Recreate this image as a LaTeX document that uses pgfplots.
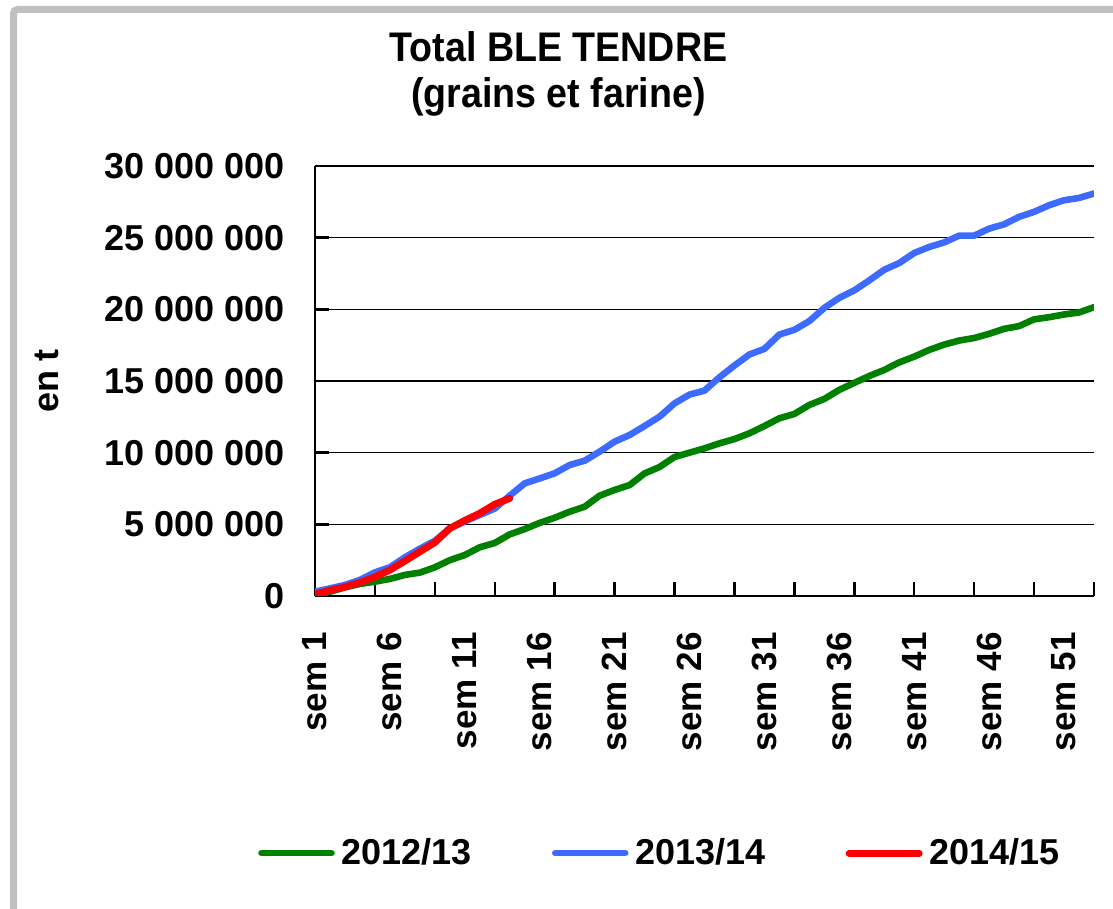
\documentclass[border=0pt]{standalone}
\usepackage{fontspec}
\setmainfont{Liberation Sans}
\usepackage{pgfplots}
\pgfplotsset{compat=1.18}
\usepackage{pgfplotstable}
\definecolor{cgreen}{HTML}{008000}
\definecolor{cblue}{HTML}{3D6BFF}
\definecolor{cred}{HTML}{FF0000}
\definecolor{cframe}{HTML}{C0C0C0}
\newcommand\f{\bfseries\fontsize{18}{21.6}\selectfont}

\pgfplotstableread{
w v
1 50000
2 300000
3 600000
4 840000
5 1000000
6 1190000
7 1470000
8 1630000
9 2000000
10 2500000
11 2860000
12 3400000
13 3700000
14 4300000
15 4670000
16 5100000
17 5460000
18 5880000
19 6230000
20 7000000
21 7400000
22 7740000
23 8550000
24 9000000
25 9700000
26 10000000
27 10300000
28 10650000
29 10950000
30 11350000
31 11860000
32 12400000
33 12700000
34 13330000
35 13750000
36 14380000
37 14870000
38 15350000
39 15770000
40 16300000
41 16700000
42 17170000
43 17540000
44 17820000
45 18000000
46 18290000
47 18640000
48 18830000
49 19300000
50 19450000
51 19640000
52 19780000
53 20150000
}\greentab

\pgfplotstableread{
w v
1 300000
2 530000
3 770000
4 1120000
5 1650000
6 2000000
7 2700000
8 3300000
9 3850000
10 4720000
11 5200000
12 5650000
13 6100000
14 7000000
15 7860000
16 8200000
17 8560000
18 9140000
19 9440000
20 10070000
21 10770000
22 11230000
23 11860000
24 12510000
25 13440000
26 14050000
27 14330000
28 15260000
29 16080000
30 16850000
31 17240000
32 18240000
33 18570000
34 19180000
35 20100000
36 20800000
37 21320000
38 22020000
39 22760000
40 23230000
41 23930000
42 24350000
43 24670000
44 25140000
45 25140000
46 25630000
47 25930000
48 26450000
49 26800000
50 27260000
51 27610000
52 27770000
53 28080000
}\bluetab

\pgfplotstableread{
w v
1 120000
2 400000
3 630000
4 940000
5 1330000
6 1810000
7 2440000
8 3090000
9 3730000
10 4720000
11 5270000
12 5770000
13 6400000
14 6810000
}\redtab

\begin{document}
\begin{tikzpicture}
\useasboundingbox (0,0) rectangle (556.5pt,454.5pt);
\draw[cframe, line width=3.5pt, rounded corners=2pt] (6.75pt,-10pt) -- (6.75pt,449.75pt) -- (580pt,449.75pt);
\node[font=\bfseries\fontsize{18.8}{22}\selectfont, anchor=base, yscale=1.1] at (279.25pt,423.5pt) {Total BLE TENDRE};
\node[font=\bfseries\fontsize{18.8}{22}\selectfont, anchor=base, yscale=1.1] at (279.25pt,400.5pt) {(grains et farine)};
\begin{axis}[
  at={(157.5pt,156.5pt)}, anchor=south west,
  scale only axis, width=389.5pt, height=215pt,
  xmin=1, xmax=53, ymin=0, ymax=30000000,
  axis x line*=bottom, axis y line*=left,
  axis line style={line width=1.1pt, -},
  tick align=inside,
  major tick length=7pt,
  tick style={line width=1.2pt, black},
  xtick={1,5,9,13,17,21,25,29,33,37,41,45,49,53},
  xticklabels={},
  extra x ticks={1,6,11,16,21,26,31,36,41,46,51},
  extra x tick labels={sem 1,sem 6,sem 11,sem 16,sem 21,sem 26,sem 31,sem 36,sem 41,sem 46,sem 51},
  extra x tick style={tick style={draw=none}},
  xticklabel style={rotate=90, anchor=east, inner sep=0pt, font=\bfseries\fontsize{17.5}{21}\selectfont},
  xticklabel shift=18pt,
  ytick={0,5000000,10000000,15000000,20000000,25000000,30000000},
  yticklabels={0,5 000 000,10 000 000,15 000 000,20 000 000,25 000 000,30 000 000},
  yticklabel style={inner sep=0pt, anchor=east, font=\f},
  yticklabel shift=15pt,
  scaled y ticks=false,
  ymajorgrids, grid style={black, line width=0.8pt},
  ylabel={en t},
  ylabel style={at={(axis description cs:-0.344,0.5)}, anchor=center, font=\f},
  legend style={at={(axis description cs:0.4416,-0.598)}, anchor=center, draw=none, fill=none,
    font=\f, legend columns=3, nodes={inner sep=0pt},
    /tikz/every odd column/.append style={column sep=3.5pt},
    /tikz/every even column/.append style={column sep=40pt}},
  legend image code/.code={\draw[#1, line cap=round] (0pt,0pt) -- (35pt,0pt);},
  every axis plot/.append style={line join=round, line cap=round, no marks},
  axis on top=false,
]
\addplot[cgreen, line width=3.3pt] table[x=w, y=v] {\greentab};
\addplot[cblue, line width=3.3pt] table[x=w, y=v] {\bluetab};
\addplot[cred, line width=3.5pt] table[x=w, y=v] {\redtab};
\legend{2012/13,2013/14,2014/15}
\end{axis}
\end{tikzpicture}
\end{document}
